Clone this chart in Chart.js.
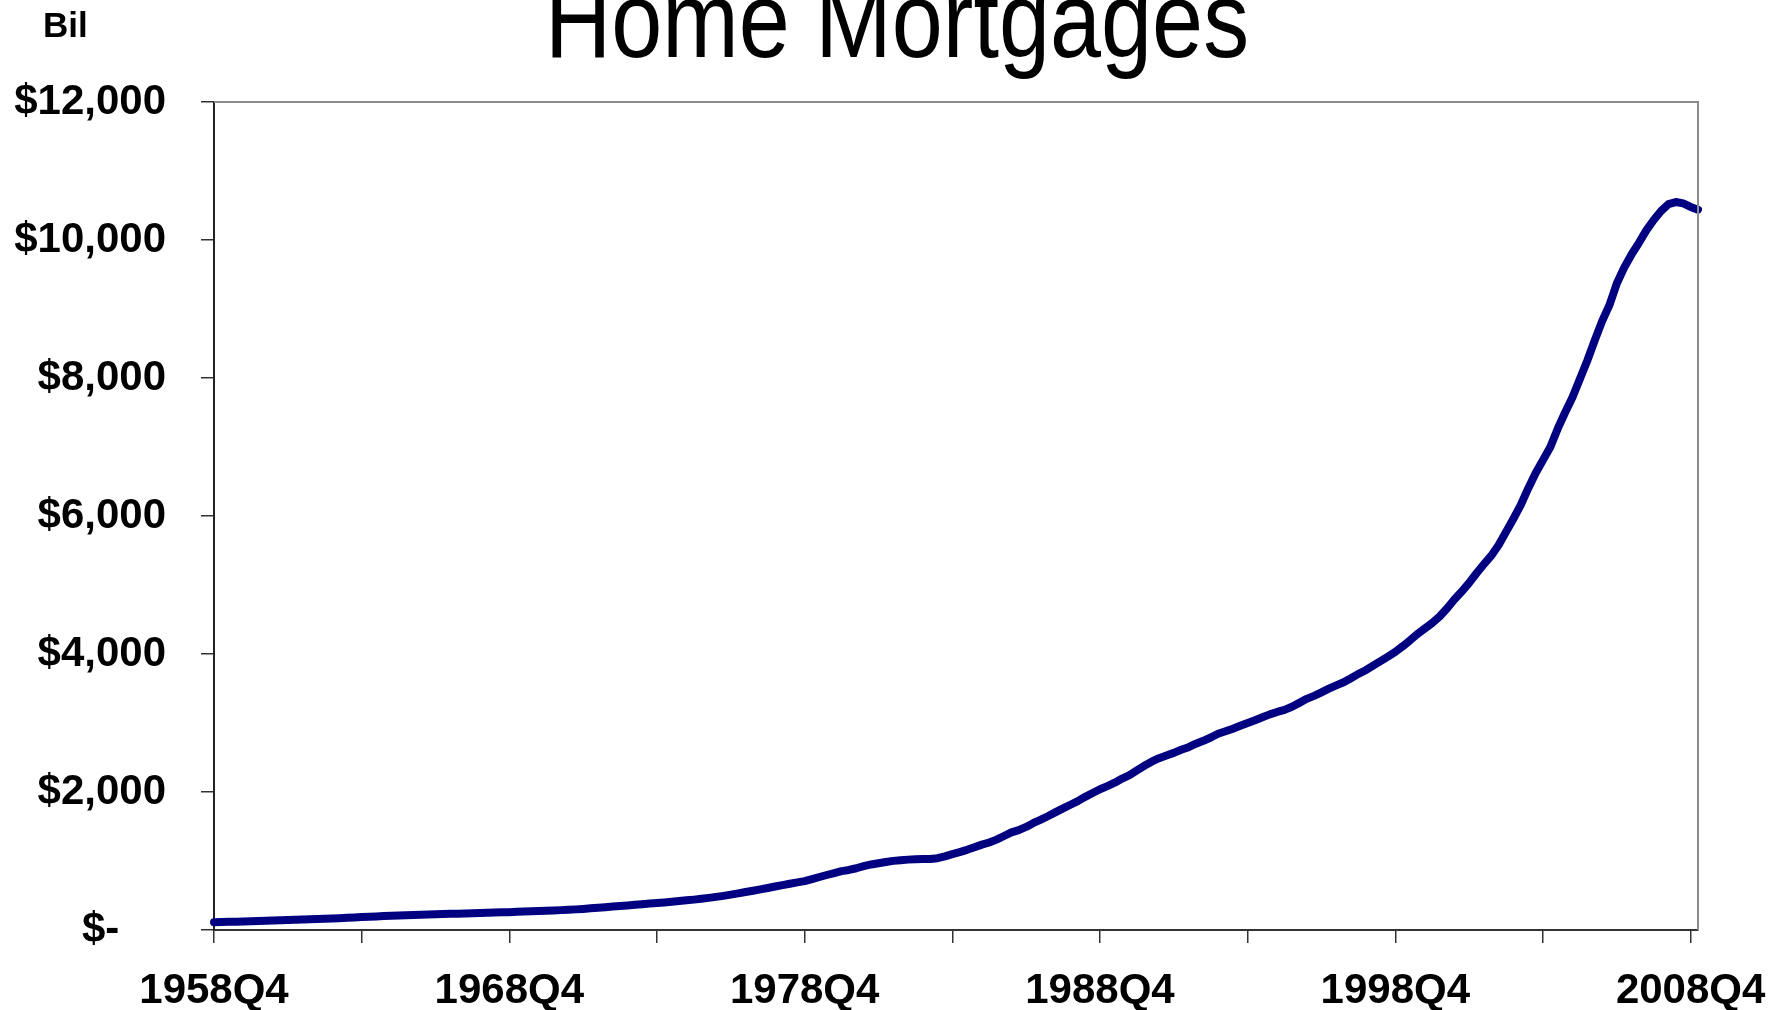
<!DOCTYPE html>
<html>
<head>
<meta charset="utf-8">
<style>
  html, body { margin: 0; padding: 0; background: #ffffff; }
  #wrap { width: 1792px; height: 1010px; position: relative; }
</style>
<script src="https://cdn.jsdelivr.net/npm/chart.js@4.4.1/dist/chart.umd.min.js"></script>
</head>
<body>
<div id="wrap"><canvas id="c" width="1792" height="1010"></canvas></div>
<script>
// ---- Data (billions of dollars, quarterly, 1958Q4 .. 2009Q1) ----
const startYear = 1958;
const startQuarter = 4;
const homeMortgages = [
  113,
  116, 118, 121, 124,      // 1959
  127, 130, 134, 137,      // 1960
  140, 144, 147, 151,      // 1961
  155, 159, 164, 168,      // 1962
  172, 177, 182, 188,      // 1963
  192, 197, 202, 206,      // 1964
  210, 214, 218, 222,      // 1965
  225, 228, 231, 234,      // 1966
  237, 240, 243, 247,      // 1967
  250, 253, 256, 259,      // 1968
  263, 267, 271, 275,      // 1969
  279, 283, 288, 293,      // 1970
  299, 306, 314, 323,      // 1971
  331, 339, 348, 356,      // 1972
  365, 374, 383, 391,      // 1973
  400, 410, 420, 430,      // 1974
  440, 452, 466, 480,      // 1975
  495, 512, 531, 550,      // 1976
  568, 588, 609, 630,      // 1977
  650, 671, 690, 708,      // 1978
  737, 768, 797, 825,      // 1979
  853, 870, 895, 925,      // 1980
  950, 968, 985, 1002,     // 1981
  1012, 1020, 1026, 1030,  // 1982
  1028, 1040, 1068, 1100,  // 1983
  1128, 1162, 1200, 1237,  // 1984
  1268, 1310, 1362, 1415,  // 1985
  1448, 1494, 1552, 1600,  // 1986
  1652, 1708, 1762, 1815,  // 1987
  1868, 1930, 1985, 2040,  // 1988
  2085, 2135, 2195, 2245,  // 1989
  2312, 2380, 2440, 2490,  // 1990
  2528, 2567, 2612, 2650,  // 1991
  2700, 2742, 2790, 2845,  // 1992
  2880, 2918, 2960, 3000,  // 1993
  3040, 3083, 3125, 3160,  // 1994
  3190, 3235, 3292, 3350,  // 1995
  3393, 3445, 3497, 3545,  // 1996
  3590, 3650, 3712, 3765,  // 1997
  3832, 3898, 3962, 4030,  // 1998
  4112, 4198, 4290, 4370,  // 1999
  4450, 4543, 4660, 4790,  // 2000
  4905, 5030, 5170, 5300,  // 2001
  5425, 5580, 5770, 5960,  // 2002
  6160, 6400, 6620, 6810,  // 2003
  7000, 7265, 7500, 7720,  // 2004
  7985, 8250, 8540, 8820,  // 2005
  9055, 9370, 9600, 9790,  // 2006
  9960, 10140, 10290, 10420, // 2007
  10520, 10550, 10530, 10480, // 2008
  10440                    // 2009Q1
];
const xTickLabels = ['1958Q4', '1968Q4', '1978Q4', '1988Q4', '1998Q4', '2008Q4'];
const yTickValues = [0, 2000, 4000, 6000, 8000, 10000, 12000];
const yTickLabels = ['$-    ', '$2,000', '$4,000', '$6,000', '$8,000', '$10,000', '$12,000'];
const titleText = 'Home Mortgages';
const unitText = 'Bil';

// quarter category labels
const quarterLabels = [];
{
  let y = startYear, q = startQuarter;
  for (let i = 0; i < homeMortgages.length; i++) {
    quarterLabels.push(y + 'Q' + q);
    q++; if (q > 4) { q = 1; y++; }
  }
}

const FONT = "'Liberation Sans', Arial, Helvetica, sans-serif";

const decorPlugin = {
  id: 'decor',
  afterDraw(chart) {
    const ctx = chart.ctx;
    const a = chart.chartArea;
    ctx.save();
    // top & right frame in gray
    ctx.strokeStyle = '#8c8c8c';
    ctx.lineWidth = 2;
    ctx.beginPath();
    ctx.moveTo(a.left, a.top);
    ctx.lineTo(a.right, a.top);
    ctx.lineTo(a.right, a.bottom);
    ctx.stroke();
    // title (condensed)
    ctx.fillStyle = '#000';
    ctx.font = '108px ' + FONT;
    ctx.textAlign = 'center';
    ctx.textBaseline = 'alphabetic';
    ctx.translate(897, 57);
    ctx.scale(0.85, 1);
    ctx.fillText(titleText, 0, 0);
    ctx.restore();
    ctx.save();
    ctx.fillStyle = '#000';
    ctx.font = 'bold 35px ' + FONT;
    ctx.textAlign = 'left';
    ctx.textBaseline = 'alphabetic';
    ctx.fillText(unitText, 43, 37);
    ctx.restore();
  }
};

new Chart(document.getElementById('c'), {
  type: 'line',
  data: {
    labels: quarterLabels,
    datasets: [{
      data: homeMortgages,
      borderColor: '#000080',
      borderWidth: 8,
      borderCapStyle: 'round',
      borderJoinStyle: 'round',
      pointRadius: 0,
      pointHoverRadius: 0,
      tension: 0,
      fill: false
    }]
  },
  options: {
    responsive: false,
    devicePixelRatio: 1,
    animation: false,
    events: [],
    layout: { padding: { left: 0, right: 94, top: 102, bottom: 0 } },
    plugins: { legend: { display: false }, title: { display: false }, tooltip: { enabled: false } },
    scales: {
      x: {
        type: 'category',
        offset: false,
        afterBuildTicks(scale) {
          scale.ticks = scale.ticks.filter(t => t.value % 20 === 0);
        },
        afterFit(scale) { scale.height = 80; },
        grid: {
          display: true,
          drawOnChartArea: false,
          drawTicks: true,
          tickLength: 13,
          color: '#333333',
          lineWidth: 1.5
        },
        border: { display: true, color: '#333333', width: 2 },
        ticks: {
          autoSkip: false,
          maxRotation: 0,
          minRotation: 0,
          padding: 23,
          color: '#000',
          font: { family: FONT, size: 42, weight: 'bold' },
          callback(value) {
            return value % 40 === 0 ? xTickLabels[value / 40] : '';
          }
        }
      },
      y: {
        min: 0,
        max: 12000,
        afterBuildTicks(scale) {
          scale.ticks = yTickValues.map(v => ({ value: v }));
        },
        afterFit(scale) { scale.width = 214; },
        grid: {
          display: true,
          drawOnChartArea: false,
          drawTicks: true,
          tickLength: 13,
          color: '#333333',
          lineWidth: 1.5
        },
        border: { display: true, color: '#222222', width: 2 },
        ticks: {
          padding: 35,
          color: '#000',
          font: { family: FONT, size: 42, weight: 'bold' },
          callback(value) {
            return yTickLabels[yTickValues.indexOf(value)];
          }
        }
      }
    }
  },
  plugins: [decorPlugin]
});
</script>
</body>
</html>
